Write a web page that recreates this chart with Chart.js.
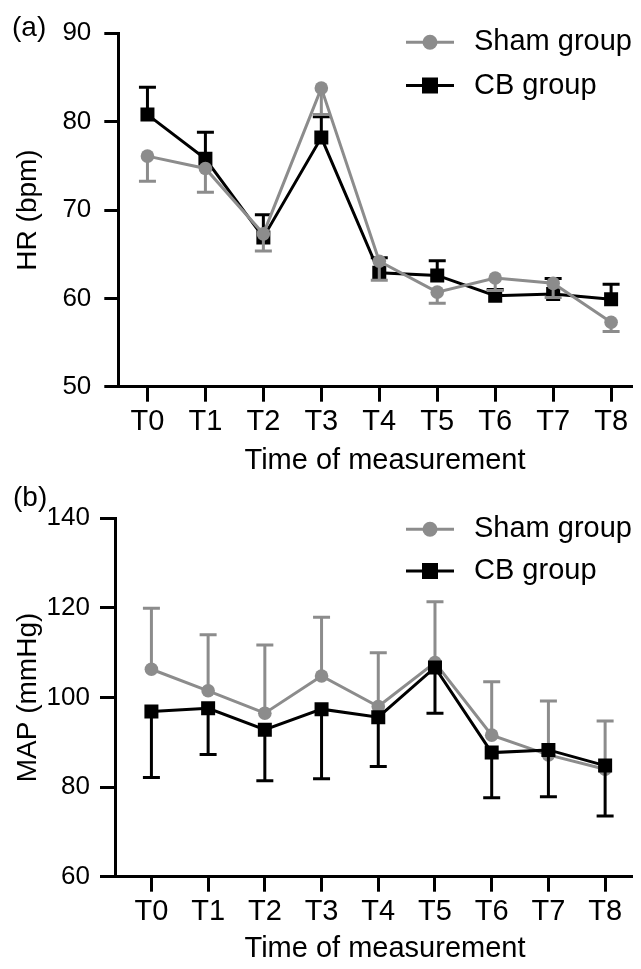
<!DOCTYPE html>
<html>
<head>
<meta charset="utf-8">
<script src="https://cdn.jsdelivr.net/npm/chart.js@4.4.1/dist/chart.umd.min.js"></script>
<style>
    body { margin: 0; background: #fff; }
    canvas { display: block; }
</style>
</head>
<body>
<canvas id="canvasHR" width="641" height="480"></canvas>
<canvas id="canvasMAP" width="641" height="489"></canvas>
<script>
// Wartości (średnia i odchylenie)
const timePoints = ['T0', 'T1', 'T2', 'T3', 'T4', 'T5', 'T6', 'T7', 'T8'];

const hrSham   = [76.1, 74.7, 67.3, 83.8, 64.2, 60.7, 62.3, 61.7, 57.3];
const hrShamSD = [2.85, 2.7, 1.95, 3.0, 2.15, 1.25, 1.4, 1.6, 1.05];
const hrCB     = [80.8, 75.8, 66.9, 78.2, 62.9, 62.6, 60.3, 60.5, 59.9];
const hrCBSD   = [3.1, 3.0, 2.55, 2.35, 1.7, 1.65, 0.7, 1.75, 1.7];

const mapSham   = [106.3, 101.5, 96.5, 104.8, 98.0, 107.8, 91.6, 87.2, 84.0];
const mapShamSD = [13.6, 12.5, 15.2, 13.1, 12.0, 13.6, 11.9, 12.0, 10.75];
const mapCB     = [96.9, 97.6, 92.8, 97.4, 95.6, 106.7, 87.7, 88.3, 84.8];
const mapCBSD   = [14.75, 10.3, 11.4, 15.55, 11.0, 10.2, 10.05, 10.45, 11.25];

const GRAY = '#8c8c8c';
const BLACK = '#000000';
const FONT = "'Liberation Sans', Arial, sans-serif";

Chart.defaults.font.family = FONT;
Chart.defaults.color = BLACK;

// Słupki błędów rysowane przed linią danego zbioru
const errorBars = {
    id: 'errorBars',
    beforeDatasetDraw(chart, args) {
        const ds = chart.data.datasets[args.index];
        if (!ds.errors) return;
        const { ctx } = chart;
        const yScale = chart.scales.y;
        ctx.save();
        ctx.strokeStyle = ds.borderColor;
        ctx.lineWidth = 3;
        args.meta.data.forEach((pt, i) => {
            const v = ds.data[i].y + ds.errDir * ds.errors[i];
            const yEnd = yScale.getPixelForValue(v);
            ctx.beginPath();
            ctx.moveTo(pt.x, pt.y);
            ctx.lineTo(pt.x, yEnd);
            ctx.moveTo(pt.x - 8.5, yEnd);
            ctx.lineTo(pt.x + 8.5, yEnd);
            ctx.stroke();
        });
        ctx.restore();
    }
};

// Legenda w polu wykresu, tytuł osi X i oznaczenie panelu
const panelDecor = {
    id: 'panelDecor',
    afterDraw(chart, args, opts) {
        const { ctx } = chart;
        ctx.save();
        ctx.fillStyle = BLACK;
        ctx.textBaseline = 'middle';
        ctx.font = '28px ' + FONT;
        ctx.fillText(opts.tag, opts.tagX, opts.tagY);

        ctx.textAlign = 'center';
        ctx.font = '29px ' + FONT;
        ctx.fillText('Time of measurement', 385, opts.xTitleY);

        ctx.textAlign = 'left';
        opts.items.forEach(item => {
            ctx.strokeStyle = item.color;
            ctx.fillStyle = item.color;
            ctx.lineWidth = 3;
            ctx.beginPath();
            ctx.moveTo(406, item.y);
            ctx.lineTo(454, item.y);
            ctx.stroke();
            if (item.style === 'circle') {
                ctx.beginPath();
                ctx.arc(430, item.y, 7.5, 0, Math.PI * 2);
                ctx.fill();
            } else {
                ctx.fillRect(430 - 8, item.y - 8, 16, 16);
            }
            ctx.fillStyle = BLACK;
            ctx.fillText(item.label, 474, item.y);
        });
        ctx.restore();
    }
};

function makeDataset(label, values, errors, errDir, color, style, order) {
    return {
        label,
        data: values.map((y, i) => ({ x: i, y })),
        errors,
        errDir,
        borderColor: color,
        backgroundColor: color,
        borderWidth: 3,
        pointStyle: style,
        pointRadius: style === 'circle' ? 6.8 : 9.9,
        pointBorderWidth: 0,
        tension: 0,
        fill: false,
        order
    };
}

function buildChart(canvasId, cfg) {
    return new Chart(document.getElementById(canvasId), {
        type: 'line',
        data: { datasets: cfg.datasets },
        options: {
            responsive: false,
            animation: false,
            devicePixelRatio: 1,
            layout: { padding: { top: cfg.top, right: 0, bottom: 0, left: 0 } },
            plugins: {
                legend: { display: false },
                tooltip: { enabled: false },
                panelDecor: cfg.decor
            },
            scales: {
                x: {
                    type: 'linear',
                    min: cfg.xMin,
                    max: cfg.xMax,
                    afterBuildTicks: s => { s.ticks = timePoints.map((_, i) => ({ value: i })); },
                    afterFit: s => { s.height = cfg.xHeight; },
                    ticks: {
                        callback: v => timePoints[v],
                        font: { size: 29 },
                        padding: 3,
                        maxRotation: 0,
                        autoSkip: false
                    },
                    grid: { drawOnChartArea: false, tickLength: 15, color: BLACK, lineWidth: 3 },
                    border: { color: BLACK, width: 3 }
                },
                y: {
                    min: cfg.yMin,
                    max: cfg.yMax,
                    afterFit: s => { s.width = cfg.yWidth; },
                    ticks: { stepSize: cfg.yStep, font: { size: 26 }, padding: cfg.yTickPad },
                    grid: { drawOnChartArea: false, tickLength: cfg.yTick, color: BLACK, lineWidth: 3 },
                    border: { color: BLACK, width: 3 },
                    title: {
                        display: true,
                        text: cfg.yTitle,
                        font: { size: 28 },
                        padding: { top: 11.5, bottom: 0 }
                    }
                }
            }
        },
        plugins: [errorBars, panelDecor]
    });
}

// (a) tętno
buildChart('canvasHR', {
    datasets: [
        makeDataset('Sham group', hrSham, hrShamSD, -1, GRAY, 'circle', 0),
        makeDataset('CB group', hrCB, hrCBSD, 1, BLACK, 'rect', 1)
    ],
    top: 33.3,
    xMin: -0.503, xMax: 8.345, xHeight: 93.3,
    yMin: 50, yMax: 90, yStep: 10, yWidth: 118.3, yTick: 14, yTickPad: 13,
    yTitle: 'HR (bpm)',
    decor: {
        tag: '(a)', tagX: 12, tagY: 28, xTitleY: 461,
        items: [
            { label: 'Sham group', color: GRAY, style: 'circle', y: 42.3 },
            { label: 'CB group', color: BLACK, style: 'rect', y: 85.5 }
        ]
    }
});

// (b) średnie ciśnienie tętnicze
buildChart('canvasMAP', {
    datasets: [
        makeDataset('Sham group', mapSham, mapShamSD, 1, GRAY, 'circle', 1),
        makeDataset('CB group', mapCB, mapCBSD, -1, BLACK, 'rect', 0)
    ],
    top: 38.3,
    xMin: -0.642, xMax: 8.458, xHeight: 92.3,
    yMin: 60, yMax: 140, yStep: 20, yWidth: 115, yTick: 15, yTickPad: 10,
    yTitle: 'MAP (mmHg)',
    decor: {
        tag: '(b)', tagX: 13, tagY: 18, xTitleY: 469,
        items: [
            { label: 'Sham group', color: GRAY, style: 'circle', y: 49.3 },
            { label: 'CB group', color: BLACK, style: 'rect', y: 91 }
        ]
    }
});
</script>
</body>
</html>
